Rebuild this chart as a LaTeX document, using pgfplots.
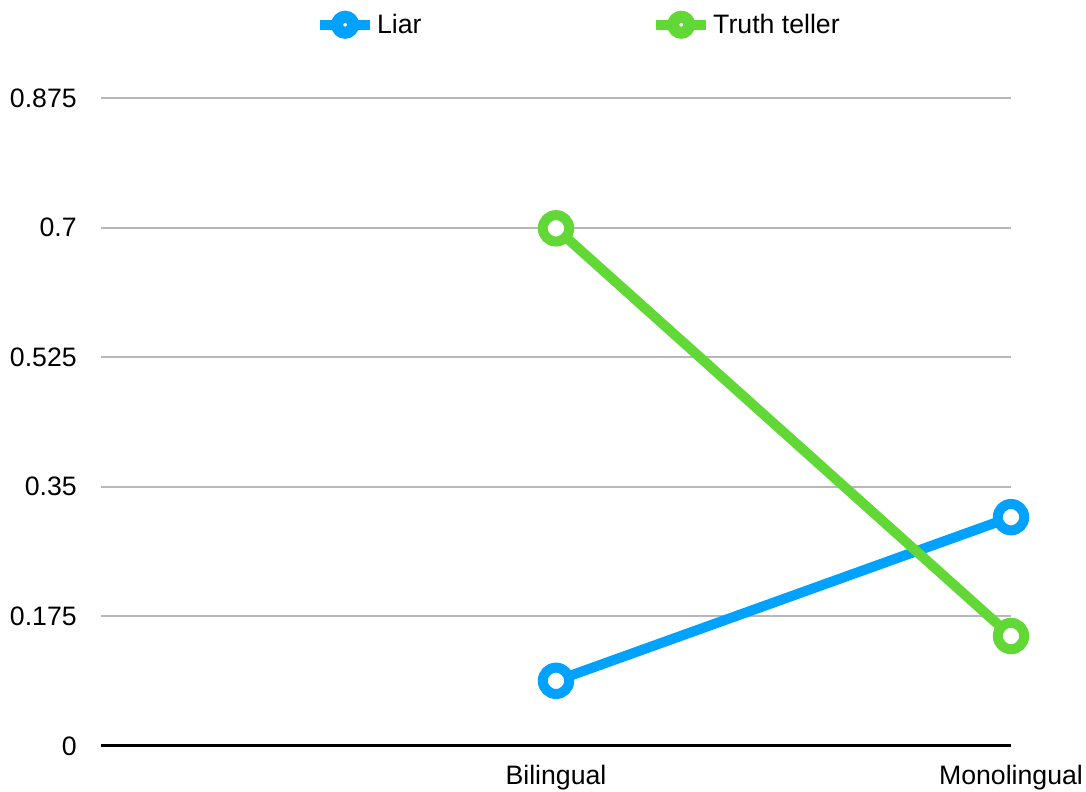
\documentclass[border=0pt]{standalone}
\usepackage{fontspec}
\setmainfont{Liberation Sans}
\usepackage{pgfplots}
\pgfplotsset{compat=1.18}
\definecolor{liar}{HTML}{00A2FF}
\definecolor{truth}{HTML}{61D836}
\definecolor{gridgray}{HTML}{B8B8B8}
\begin{document}
\begin{tikzpicture}
\useasboundingbox (-75.75pt,-34.5pt) rectangle (738.75pt,559.5pt);
\begin{axis}[
  at={(0pt,0pt)}, anchor=south west,
  scale only axis, width=682.5pt, height=486pt,
  xmin=0, xmax=2, ymin=0, ymax=0.875,
  clip=false,
  axis line style={draw=none},
  tick style={draw=none},
  xtick={1,2}, xticklabels={Bilingual,Monolingual},
  ytick={0,0.175,0.35,0.525,0.7,0.875},
  yticklabels={0,0.175,0.35,0.525,0.7,0.875},
  ymajorgrids,
  grid style={gridgray, line width=1.5pt},
  yticklabel style={font=\fontsize{20}{23}\selectfont, anchor=east, inner sep=0pt, xshift=-18pt},
  xticklabel style={font=\fontsize{20}{23}\selectfont, anchor=north, inner sep=0pt, yshift=-14.25pt},
  legend columns=2,
  legend style={at={(0.235,1.113)}, anchor=west, draw=none, fill=none, inner sep=0pt,
    font=\fontsize{20}{23}\selectfont,
    nodes={inner sep=0pt, anchor=west},
    /tikz/every odd column/.append style={column sep=1.5pt},
    /tikz/every even column/.append style={column sep=172.25pt}},
  legend image code/.code={
    \draw[#1, line width=7.5pt, mark=none] (0pt,0pt) -- (37.5pt,0pt);
    \draw[#1, fill=white, line width=9pt, mark=none] (18.75pt,0pt) circle (6pt);
  },
]
\draw[black, line width=2.25pt] (rel axis cs:0,0) -- (rel axis cs:1,0);
\addplot[liar, line width=7.5pt, mark=*, mark size=9.9pt,
  mark options={fill=white, line width=7.5pt}] coordinates {(1,0.088) (2,0.309)};
\addlegendentry{Liar}
\addplot[truth, line width=7.5pt, mark=*, mark size=9.9pt,
  mark options={fill=white, line width=7.5pt}] coordinates {(1,0.699) (2,0.1485)};
\addlegendentry{Truth teller}
\end{axis}
\end{tikzpicture}
\end{document}
